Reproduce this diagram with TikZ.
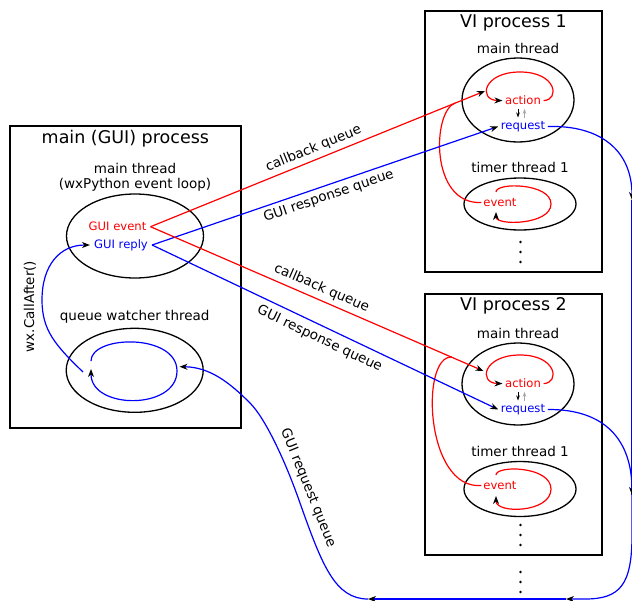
\documentclass[tikz,border=0pt]{standalone}
\usepackage{fontspec}
\setmainfont{DejaVu Sans}
\usetikzlibrary{positioning,shapes.geometric,arrows.meta}

\begin{document}
\begin{tikzpicture}[x=1pt, y=-1pt,
  >={Stealth[length=8pt,width=6pt,inset=2.5pt,color=black]},
  proc/.style={draw, line width=1.8pt, inner sep=0pt},
  thr/.style={draw, ellipse, line width=1.3pt, inner sep=0pt, minimum width=112pt},
  ttl/.style={font=\fontsize{17.5}{20}\selectfont, inner sep=0pt},
  lbl/.style={font=\fontsize{13.5}{15}\selectfont, text=black, inner sep=0pt, align=center},
  sm/.style={font=\fontsize{11.6}{14}\selectfont, inner sep=2.5pt},
  cb/.style={red, line width=1.2pt},
  rq/.style={blue, line width=1.2pt},
  hint/.style={-{Stealth[length=5pt,width=3.5pt,inset=1.5pt]}, line width=0.8pt, shorten >=1pt, shorten <=1pt}]
  \useasboundingbox (0,0) rectangle (632,600);

  % main (GUI) process
  \node[proc, minimum width=230.7pt, minimum height=301.7pt] (gui) at (125.35,276.85) {};
  \node[ttl, below=5pt of gui.north] (guittl) {main (GUI) process};
  \node[thr, minimum width=137pt, minimum height=84pt] (mt) at (135,236) {};
  \node[lbl, above=1.8pt of mt] (mtlbl) {main thread\\(wxPython event loop)};
  \node[sm, red, inner sep=4pt] (gev) at (117.5,226.7) {GUI event};
  \node[sm, blue, inner sep=4pt] (grp) at (121,245) {GUI reply};
  \node[thr, minimum width=137pt, minimum height=84pt] (qw) at (134.7,370.3) {};
  \node[lbl, above=4.4pt of qw] (qwlbl) {queue watcher thread};
  \draw[rq, ->] (91,361) .. controls (91,335) and (177,333) .. (177,371)
    .. controls (177,410) and (91,410) .. (91,369);
  \coordinate (wxa) at (83,372);
  \draw[rq, ->] (wxa) .. controls (55,345) and (42,330) .. (42,300)
    .. controls (42,265) and (60,245) .. (grp.west);
  \node[lbl, rotate=90] (wxlbl) at (30,306.5) {wx.CallAfter()};

  % VI process 1
  \node[proc, minimum width=177.6pt, minimum height=260.7pt] (vi1) at (513.5,141.35) {};
  \node[ttl, below=4.5pt of vi1.north] (vi1ttl) {VI process 1};
  \node[thr, minimum height=84pt] (vi1m) at (518,100) {};
  \node[lbl, above=3.5pt of vi1m] (vi1ml) {main thread};
  \node[thr, minimum height=52pt] (vi1t) at (520,204) {};
  \node[lbl, above=4.4pt of vi1t] (vi1tl) {timer thread 1};
  \node[sm, red] (act1) at (523,100.6) {action};
  \node[sm, blue] (req1) at (523,126.5) {request};
  \node[sm, red, inner sep=2pt] (ev1) at (500,202.5) {event};
  \draw[cb, ->] (act1.east) .. controls (560,100) and (557,72) .. (520,72)
    .. controls (483,72) and (478,100) .. (act1.west);
  \draw[cb, ->] (496,192) .. controls (496,182) and (551,183) .. (551,204)
    .. controls (551,225) and (496,226) .. (496,212);
  \draw[hint] ([xshift=-5pt]act1.south) -- ([xshift=-5pt]req1.north);
  \draw[hint, black!35] ([xshift=1.5pt]req1.north) -- ([xshift=1.5pt]act1.south);
  \draw[cb] (ev1.west) .. controls (430,205) and (432,112) .. (455,103);

  % VI process 2
  \node[proc, minimum width=177.6pt, minimum height=261pt] (vi2) at (513.5,424.5) {};
  \node[ttl, below=4.5pt of vi2.north] (vi2ttl) {VI process 2};
  \node[thr, minimum height=82pt] (vi2m) at (518,384) {};
  \node[lbl, above=3.5pt of vi2m] (vi2ml) {main thread};
  \node[thr, minimum height=55pt] (vi2t) at (520,489) {};
  \node[lbl, above=4.4pt of vi2t] (vi2tl) {timer thread 1};
  \node[sm, red] (act2) at (523,383.6) {action};
  \node[sm, blue] (req2) at (523,409.5) {request};
  \node[sm, red, inner sep=2pt] (ev2) at (500,485.5) {event};
  \draw[cb, ->] (act2.east) .. controls (560,383) and (557,355) .. (520,355)
    .. controls (483,355) and (478,383) .. (act2.west);
  \draw[cb, ->] (496,475) .. controls (496,465) and (551,466) .. (551,489)
    .. controls (551,513) and (496,514) .. (496,496);
  \draw[hint] ([xshift=-5pt]act2.south) -- ([xshift=-5pt]req2.north);
  \draw[hint, black!35] ([xshift=1.5pt]req2.north) -- ([xshift=1.5pt]act2.south);
  \draw[cb] (ev2.west) .. controls (425,490) and (420,355) .. (452,357);

  \foreach \y in {242,252,262,525,535,545,572,582,592}
    \fill (520.5,\y) circle[radius=1.4pt];

  % queues between the processes
  \coordinate (cb1) at (485,91);
  \coordinate (cb2) at (483.5,371);
  \draw[cb, ->] (gev.east) -- node[lbl, sloped, above, inner sep=4pt] (cbl1) {callback queue} (cb1);
  \draw[rq, ->] (grp.east) -- node[lbl, sloped, below, inner sep=4pt] (grl1) {GUI response queue} (req1.west);
  \draw[cb, ->] (gev.east) -- node[lbl, sloped, above, inner sep=4.5pt] (cbl2) {callback queue} (cb2);
  \draw[rq, ->] (grp.east) -- node[lbl, sloped, below, inner sep=6pt] (grl2) {GUI response queue} (req2.west);

  % GUI request queue
  \coordinate (rd1) at (632,200);
  \coordinate (rd2) at (632,495);
  \coordinate (bl1) at (566,599);
  \coordinate (bl2) at (368,599);
  \coordinate (qwin) at (179.5,366.7);
  \draw[rq, ->] (req1.east) .. controls (600,125) and (632,150) .. (rd1);
  \draw[rq] (rd1) -- (rd2);
  \draw[rq, ->] (req2.east) .. controls (605,409) and (632,440) .. (rd2);
  \draw[rq, ->] (rd2) -- (632,535) .. controls (632,585) and (620,599) .. (585,599) -- (bl1);
  \draw[rq, ->] (bl1) -- (bl2);
  \draw[rq, ->] (bl2) .. controls (335,599) and (322,565) .. (300,503)
    .. controls (285,460) and (265,418) .. (250,403)
    .. controls (230,383) and (210,367) .. (qwin);
  \node[lbl, rotate=-68] (grql) at (308,488) {GUI request queue};
\end{tikzpicture}
\end{document}
